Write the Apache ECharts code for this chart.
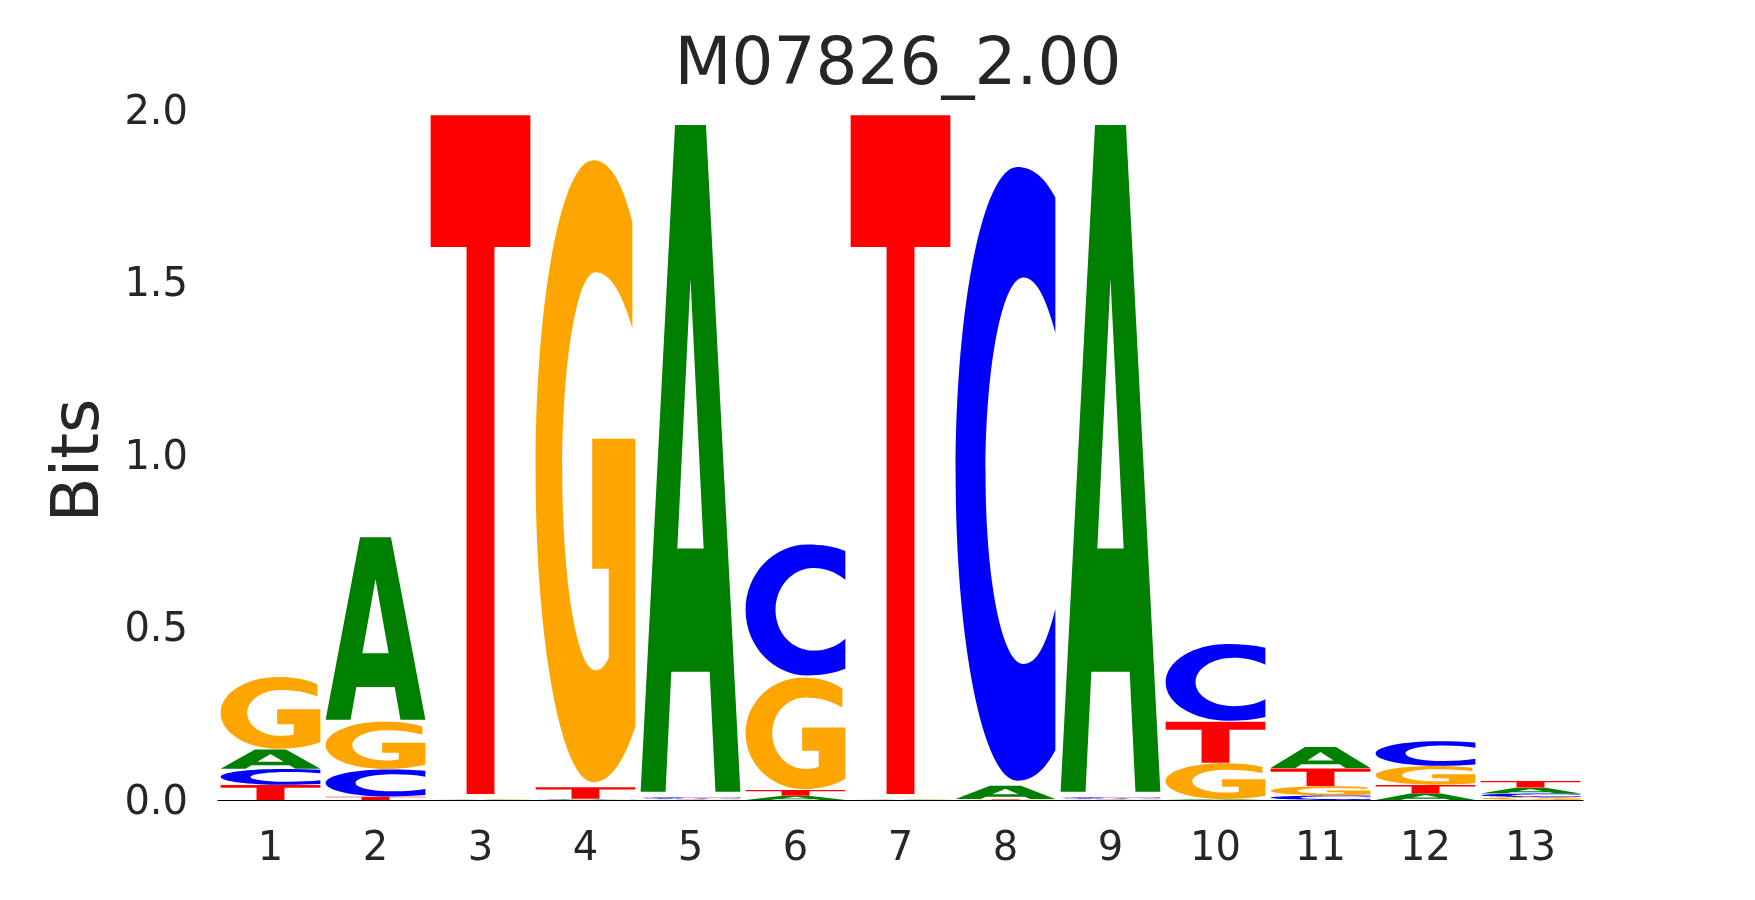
<!DOCTYPE html>
<html><head><meta charset="utf-8">
<script src="https://cdn.jsdelivr.net/npm/echarts@6/dist/echarts.min.js"></script>
<style>html,body{margin:0;padding:0;background:#fff}#c{width:1755px;height:900px}</style>
</head><body><div id="c"></div>
<script>
// ---- data (bits per letter per position) ----
const positions = ['1','2','3','4','5','6','7','8','9','10','11','12','13'];
const letters = ['A','C','G','T'];
const bitsA = [0.057, 0.538, 0.0005, 0.001, 1.964, 0.012, 0.0005, 0.039, 1.964, 0.002, 0.062, 0.019, 0.017];
const bitsC = [0.046, 0.0795, 0.0005, 0.002, 0.005, 0.386, 0.0005, 1.808, 0.005, 0.226, 0.013, 0.072, 0.011];
const bitsG = [0.211, 0.139, 0.0005, 1.832, 0.002, 0.329, 0.0005, 0.001, 0.002, 0.105, 0.027, 0.055, 0.008];
const bitsT = [0.044, 0.0096, 1.999, 0.034, 0.001, 0.017, 1.999, 0.0015, 0.001, 0.121, 0.052, 0.025, 0.019];
const yTicks = [0, 0.5, 1.0, 1.5, 2.0];
const titleText = 'M07826_2.00';
const yName = 'Bits';

// ---- style ----
const colors = {A:'#008000', C:'#0000ff', G:'#ffa500', T:'#ff0000'};
const VPAD = 0.016, LETTER_WIDTH = 0.95;
const TXT = '#262626', FONT = 'DejaVu Sans';
const glyphPaths = {
  A: 'M0 1 L0.345 0 L0.655 0 L1 1 L0.75 1 L0.692 0.82 L0.308 0.82 L0.25 1 Z M0.5 0.23 L0.368 0.635 L0.632 0.635 Z',
  C: 'M1 0.05 C0.89 0.015 0.76 0 0.62 0 C0.28 0 0 0.224 0 0.5 C0 0.776 0.28 1 0.62 1 C0.76 1 0.89 0.985 1 0.95 L1 0.72 C0.9 0.785 0.8 0.81 0.68 0.81 C0.47 0.81 0.30 0.677 0.30 0.5 C0.30 0.323 0.47 0.18 0.68 0.18 C0.8 0.18 0.9 0.21 1 0.27 Z',
  G: 'M0.97 0.10 C0.86 0.03 0.73 0 0.58 0 C0.26 0 0 0.224 0 0.5 C0 0.776 0.26 1 0.58 1 C0.74 1 0.88 0.97 1 0.91 L1 0.448 L0.567 0.448 L0.567 0.657 L0.733 0.657 L0.733 0.80 C0.69 0.815 0.65 0.82 0.60 0.82 C0.42 0.82 0.267 0.68 0.267 0.5 C0.267 0.32 0.42 0.18 0.60 0.18 C0.74 0.18 0.86 0.21 0.97 0.27 Z',
  T: 'M0 0 L1 0 L1 0.194 L0.64 0.194 L0.64 1 L0.36 1 L0.36 0.194 L0 0.194 Z'
};

const bitsBy = {A: bitsA, C: bitsC, G: bitsG, T: bitsT};
const data = [];
positions.forEach((p, i) => {
  const col = letters.map(l => ({l, v: bitsBy[l][i]})).sort((a, b) => a.v - b.v);
  let base = 0;
  col.forEach(c => { data.push([i, base, base + c.v, letters.indexOf(c.l)]); base += c.v; });
});

function renderItem(params, api) {
  const x = api.value(0), y0 = api.value(1), y1 = api.value(2), L = letters[api.value(3)];
  const pad = VPAD * (y1 - y0) / 2;
  const pTop = api.coord([x, y1 - pad]);
  const pBot = api.coord([x, y0 + pad]);
  const w = api.size([1, 0])[0] * LETTER_WIDTH;
  return {
    type: 'path',
    shape: {pathData: glyphPaths[L], x: pTop[0] - w / 2, y: pTop[1], width: w,
            height: Math.max(pBot[1] - pTop[1], 0.05), layout: 'cover'},
    style: {fill: colors[L]}
  };
}

const chart = echarts.init(document.getElementById('c'), null, {renderer: 'canvas'});
chart.setOption({
  backgroundColor: '#fff',
  animation: false,
  title: {text: titleText, left: 893, textAlign: 'center', top: 29,
          textStyle: {fontFamily: FONT, fontSize: 66, fontWeight: 'normal', color: TXT}},
  grid: {left: 218, right: 172, top: 110, bottom: 100},
  xAxis: {
    type: 'category', data: positions, boundaryGap: true,
    axisLine: {show: true, lineStyle: {color: '#000', width: 1.2}},
    axisTick: {show: false}, splitLine: {show: false},
    axisLabel: {fontFamily: FONT, fontSize: 40, color: TXT, margin: 30}
  },
  yAxis: {
    type: 'value', min: yTicks[0], max: yTicks[yTicks.length - 1], interval: yTicks[1] - yTicks[0],
    axisLine: {show: false}, axisTick: {show: false}, splitLine: {show: false},
    axisLabel: {fontFamily: FONT, fontSize: 40, color: TXT, margin: 30,
                verticalAlign: 'top', lineHeight: 7,
                formatter: v => v.toFixed(1)},
    name: yName, nameLocation: 'middle', nameGap: 104,
    nameTextStyle: {fontFamily: FONT, fontSize: 66, color: TXT, padding: [0, 11, 0, 0]}
  },
  series: [{type: 'custom', renderItem, data, encode: {x: 0, y: [1, 2]}, z: 3}]
});
</script></body></html>
